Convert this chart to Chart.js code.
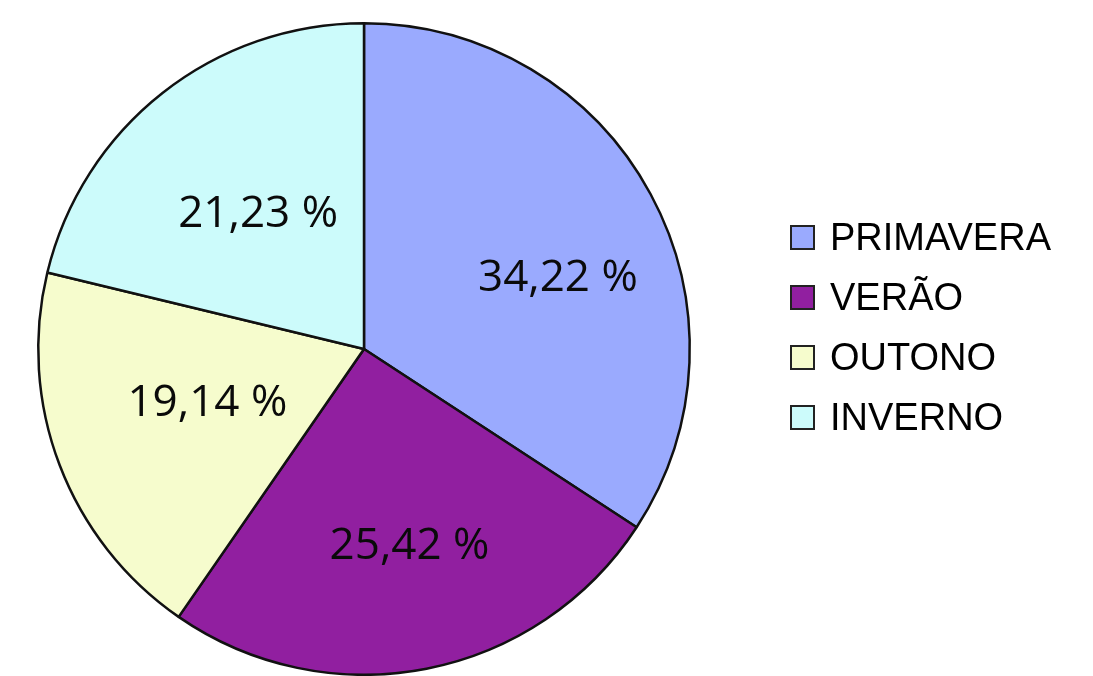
<!DOCTYPE html>
<html>
<head>
<meta charset="utf-8">
<script src="https://cdn.jsdelivr.net/npm/chart.js@4.4.1/dist/chart.umd.min.js"></script>
<style>
  body { margin: 0; background: #fff; }
  #wrap { position: relative; width: 1093px; height: 676px; overflow: hidden; }
  #legend { position: absolute; left: 790px; top: 207px; font-family: "Liberation Sans", Arial, sans-serif; font-size: 38px; color: #000; }
  .item { display: flex; align-items: center; height: 60px; }
  .box { width: 21px; height: 21px; border: 2px solid #222; margin-right: 15px; }
  .item span { line-height: 38px; }
</style>
</head>
<body>
<div id="wrap">
  <canvas id="myChart" width="1093" height="676"></canvas>
  <div id="legend"></div>
</div>
<script>
const seasons = ['PRIMAVERA', 'VERÃO', 'OUTONO', 'INVERNO'];
const shares = [34.22, 25.42, 19.14, 21.23];
const shareLabels = ['34,22 %', '25,42 %', '19,14 %', '21,23 %'];
const colors = ['#9aaafe', '#911fa0', '#f6fccd', '#ccfbfb'];

// labels drawn at the middle of each slice, with a small nudge
const sliceLabels = {
  id: 'sliceLabels',
  afterDatasetsDraw(chart, args, opts) {
    const ctx = chart.ctx;
    const meta = chart.getDatasetMeta(0);
    ctx.save();
    ctx.font = '44px "Open Sans", sans-serif';
    ctx.fillStyle = '#0a0a0a';
    ctx.textAlign = 'center';
    ctx.textBaseline = 'middle';
    meta.data.forEach((arc, i) => {
      const mid = (arc.startAngle + arc.endAngle) / 2;
      const r = arc.outerRadius * opts.ratio;
      const n = opts.nudge[i] || [0, 0];
      ctx.fillText(shareLabels[i], arc.x + Math.cos(mid) * r + n[0], arc.y + Math.sin(mid) * r + n[1]);
    });
    ctx.restore();
  }
};

const ctx = document.getElementById('myChart');
new Chart(ctx, {
  type: 'pie',
  data: {
    labels: seasons,
    datasets: [{
      data: shares,
      backgroundColor: colors,
      borderColor: '#111',
      borderWidth: 2.5,
      clip: false
    }]
  },
  options: {
    responsive: false,
    animation: false,
    layout: { padding: { left: 37, right: 402, top: 22, bottom: 0 } },
    plugins: {
      legend: { display: false },
      tooltip: { enabled: false },
      sliceLabels: { ratio: 0.6, nudge: [[22, 22], [8, 6], [26, -15], [15, 19]] }
    }
  },
  plugins: [sliceLabels]
});

const legend = document.getElementById('legend');
seasons.forEach((s, i) => {
  const row = document.createElement('div');
  row.className = 'item';
  row.innerHTML = '<div class="box" style="background:' + colors[i] + '"></div><span>' + s + '</span>';
  legend.appendChild(row);
});
</script>
</body>
</html>
